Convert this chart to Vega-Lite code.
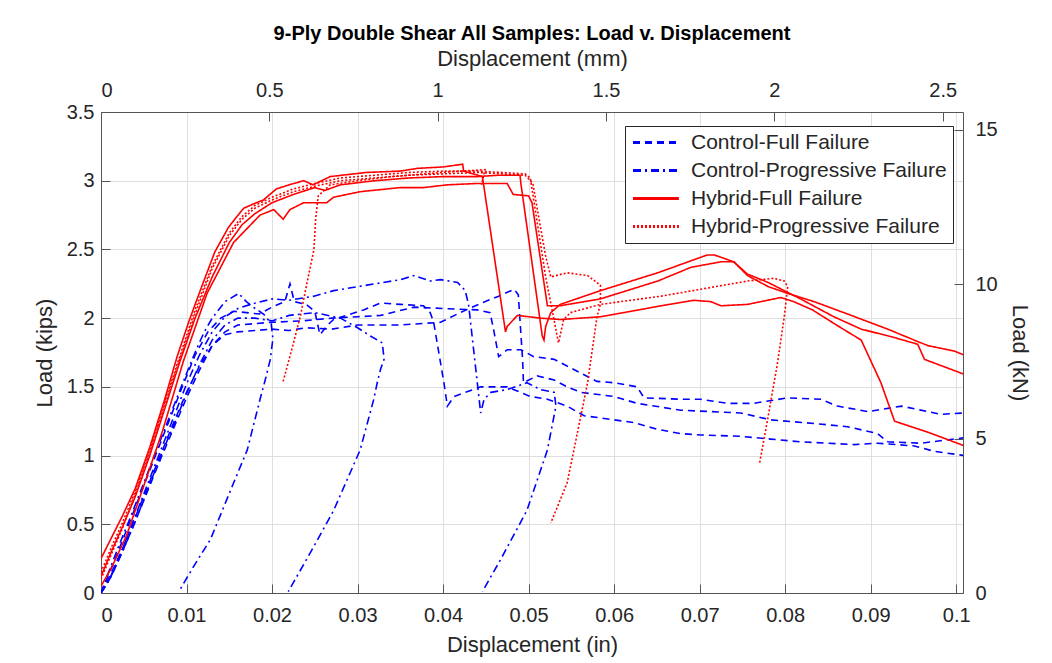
{
"$schema":"https://vega.github.io/schema/vega-lite/v6.json",
"width":862,"height":481,
"autosize":{"type":"none"},
"padding":{"left":101,"top":112,"right":89,"bottom":70},
"title":{"text":"9-Ply Double Shear All Samples: Load v. Displacement","fontSize":20,"fontWeight":"bold","color":"#000","anchor":"middle","offset":3,"font":"Liberation Sans"},
"config":{
 "font":"Liberation Sans",
 "view":{"stroke":null},
 "axis":{"labelFontSize":20,"titleFontSize":22,"labelColor":"#262626","titleColor":"#262626","titleFontWeight":"normal","domainColor":"#555","tickColor":"#555","gridColor":"#dfdfdf","gridOpacity":1,"tickSize":-9,"labelFont":"Liberation Sans","titleFont":"Liberation Sans"},
 "legend":{"orient":"none","legendX":524,"legendY":14,"labelFontSize":21,"labelLimit":0,"labelColor":"#262626","strokeColor":"#262626","fillColor":"#ffffff","padding":6,"rowPadding":6,"symbolType":"M-1,0L4.4,0","symbolSize":289,"symbolStrokeWidth":3,"labelOffset":39,"labelFont":"Liberation Sans"}
},
"layer":[
{
"data":{"values":[
{"c":"Da","t":"CF","x":0,"y":0},{"c":"Da","t":"CF","x":0.0012,"y":0.12},{"c":"Da","t":"CF","x":0.0025,"y":0.3},{"c":"Da","t":"CF","x":0.004,"y":0.52},{"c":"Da","t":"CF","x":0.0055,"y":0.75},{"c":"Da","t":"CF","x":0.007,"y":0.98},{"c":"Da","t":"CF","x":0.0085,"y":1.2},{"c":"Da","t":"CF","x":0.01,"y":1.42},{"c":"Da","t":"CF","x":0.0115,"y":1.62},{"c":"Da","t":"CF","x":0.013,"y":1.8},{"c":"Da","t":"CF","x":0.0145,"y":1.9},{"c":"Da","t":"CF","x":0.016,"y":1.95},{"c":"Da","t":"CF","x":0.018,"y":1.96},{"c":"Da","t":"CF","x":0.02,"y":1.97},{"c":"Da","t":"CF","x":0.0235,"y":1.98},{"c":"Da","t":"CF","x":0.027,"y":2.0},{"c":"Da","t":"CF","x":0.03,"y":2.01},{"c":"Da","t":"CF","x":0.0327,"y":2.02},{"c":"Da","t":"CF","x":0.0366,"y":2.08},{"c":"Da","t":"CF","x":0.04,"y":2.07},{"c":"Da","t":"CF","x":0.044,"y":2.06},{"c":"Da","t":"CF","x":0.0455,"y":2.04},{"c":"Da","t":"CF","x":0.0459,"y":1.92},{"c":"Da","t":"CF","x":0.0465,"y":1.72},{"c":"Da","t":"CF","x":0.0475,"y":1.77},{"c":"Da","t":"CF","x":0.0491,"y":1.77},{"c":"Da","t":"CF","x":0.0506,"y":1.72},{"c":"Da","t":"CF","x":0.053,"y":1.7},{"c":"Da","t":"CF","x":0.0561,"y":1.6},{"c":"Da","t":"CF","x":0.058,"y":1.54},{"c":"Da","t":"CF","x":0.06,"y":1.53},{"c":"Da","t":"CF","x":0.0627,"y":1.5},{"c":"Da","t":"CF","x":0.0635,"y":1.42},{"c":"Da","t":"CF","x":0.0678,"y":1.41},{"c":"Da","t":"CF","x":0.0701,"y":1.41},{"c":"Da","t":"CF","x":0.0733,"y":1.38},{"c":"Da","t":"CF","x":0.0763,"y":1.38},{"c":"Da","t":"CF","x":0.0803,"y":1.42},{"c":"Da","t":"CF","x":0.0842,"y":1.41},{"c":"Da","t":"CF","x":0.0861,"y":1.36},{"c":"Da","t":"CF","x":0.0897,"y":1.32},{"c":"Da","t":"CF","x":0.0936,"y":1.36},{"c":"Da","t":"CF","x":0.0982,"y":1.3},{"c":"Da","t":"CF","x":0.101,"y":1.31},
{"c":"Db","t":"CF","x":0,"y":0},{"c":"Db","t":"CF","x":0.001,"y":0.12},{"c":"Db","t":"CF","x":0.0025,"y":0.32},{"c":"Db","t":"CF","x":0.004,"y":0.55},{"c":"Db","t":"CF","x":0.0055,"y":0.78},{"c":"Db","t":"CF","x":0.007,"y":1.01},{"c":"Db","t":"CF","x":0.0085,"y":1.24},{"c":"Db","t":"CF","x":0.01,"y":1.46},{"c":"Db","t":"CF","x":0.0115,"y":1.65},{"c":"Db","t":"CF","x":0.013,"y":1.8},{"c":"Db","t":"CF","x":0.0145,"y":1.88},{"c":"Db","t":"CF","x":0.016,"y":1.9},{"c":"Db","t":"CF","x":0.018,"y":1.91},{"c":"Db","t":"CF","x":0.02,"y":1.92},{"c":"Db","t":"CF","x":0.022,"y":1.91},{"c":"Db","t":"CF","x":0.024,"y":1.93},{"c":"Db","t":"CF","x":0.027,"y":1.92},{"c":"Db","t":"CF","x":0.03,"y":1.95},{"c":"Db","t":"CF","x":0.035,"y":1.95},{"c":"Db","t":"CF","x":0.0397,"y":1.97},{"c":"Db","t":"CF","x":0.042,"y":2.04},{"c":"Db","t":"CF","x":0.0445,"y":2.11},{"c":"Db","t":"CF","x":0.0465,"y":2.16},{"c":"Db","t":"CF","x":0.0483,"y":2.21},{"c":"Db","t":"CF","x":0.0488,"y":2.17},{"c":"Db","t":"CF","x":0.049,"y":1.98},{"c":"Db","t":"CF","x":0.0493,"y":1.7},{"c":"Db","t":"CF","x":0.0494,"y":1.53},{"c":"Db","t":"CF","x":0.051,"y":1.58},{"c":"Db","t":"CF","x":0.053,"y":1.55},{"c":"Db","t":"CF","x":0.0545,"y":1.5},{"c":"Db","t":"CF","x":0.0561,"y":1.46},{"c":"Db","t":"CF","x":0.06,"y":1.43},{"c":"Db","t":"CF","x":0.0627,"y":1.38},{"c":"Db","t":"CF","x":0.0678,"y":1.33},{"c":"Db","t":"CF","x":0.0748,"y":1.31},{"c":"Db","t":"CF","x":0.0783,"y":1.26},{"c":"Db","t":"CF","x":0.0822,"y":1.24},{"c":"Db","t":"CF","x":0.0873,"y":1.21},{"c":"Db","t":"CF","x":0.0908,"y":1.16},{"c":"Db","t":"CF","x":0.092,"y":1.1},{"c":"Db","t":"CF","x":0.0959,"y":1.09},{"c":"Db","t":"CF","x":0.101,"y":1.13},
{"c":"Dc","t":"CF","x":0,"y":0},{"c":"Dc","t":"CF","x":0.0008,"y":0.12},{"c":"Dc","t":"CF","x":0.002,"y":0.3},{"c":"Dc","t":"CF","x":0.0035,"y":0.54},{"c":"Dc","t":"CF","x":0.005,"y":0.78},{"c":"Dc","t":"CF","x":0.0065,"y":1.02},{"c":"Dc","t":"CF","x":0.008,"y":1.26},{"c":"Dc","t":"CF","x":0.0095,"y":1.5},{"c":"Dc","t":"CF","x":0.011,"y":1.73},{"c":"Dc","t":"CF","x":0.0125,"y":1.9},{"c":"Dc","t":"CF","x":0.014,"y":2.0},{"c":"Dc","t":"CF","x":0.0155,"y":2.05},{"c":"Dc","t":"CF","x":0.017,"y":2.04},{"c":"Dc","t":"CF","x":0.0185,"y":2.03},{"c":"Dc","t":"CF","x":0.02,"y":2.08},{"c":"Dc","t":"CF","x":0.0215,"y":2.12},{"c":"Dc","t":"CF","x":0.0221,"y":2.25},{"c":"Dc","t":"CF","x":0.0226,"y":2.12},{"c":"Dc","t":"CF","x":0.024,"y":2.1},{"c":"Dc","t":"CF","x":0.025,"y":2.05},{"c":"Dc","t":"CF","x":0.0256,"y":1.88},{"c":"Dc","t":"CF","x":0.0265,"y":1.95},{"c":"Dc","t":"CF","x":0.0272,"y":1.99},{"c":"Dc","t":"CF","x":0.0307,"y":2.06},{"c":"Dc","t":"CF","x":0.0327,"y":2.11},{"c":"Dc","t":"CF","x":0.035,"y":2.1},{"c":"Dc","t":"CF","x":0.0377,"y":2.09},{"c":"Dc","t":"CF","x":0.0385,"y":2.04},{"c":"Dc","t":"CF","x":0.0389,"y":1.97},{"c":"Dc","t":"CF","x":0.0401,"y":1.53},{"c":"Dc","t":"CF","x":0.0405,"y":1.36},{"c":"Dc","t":"CF","x":0.0413,"y":1.43},{"c":"Dc","t":"CF","x":0.0444,"y":1.5},{"c":"Dc","t":"CF","x":0.0475,"y":1.5},{"c":"Dc","t":"CF","x":0.0502,"y":1.43},{"c":"Dc","t":"CF","x":0.0522,"y":1.41},{"c":"Dc","t":"CF","x":0.0545,"y":1.36},{"c":"Dc","t":"CF","x":0.0565,"y":1.29},{"c":"Dc","t":"CF","x":0.06,"y":1.26},{"c":"Dc","t":"CF","x":0.0623,"y":1.24},{"c":"Dc","t":"CF","x":0.0651,"y":1.19},{"c":"Dc","t":"CF","x":0.0678,"y":1.16},{"c":"Dc","t":"CF","x":0.0701,"y":1.15},{"c":"Dc","t":"CF","x":0.0748,"y":1.14},{"c":"Dc","t":"CF","x":0.0783,"y":1.12},{"c":"Dc","t":"CF","x":0.0818,"y":1.1},{"c":"Dc","t":"CF","x":0.0881,"y":1.08},{"c":"Dc","t":"CF","x":0.0908,"y":1.09},{"c":"Dc","t":"CF","x":0.0951,"y":1.07},{"c":"Dc","t":"CF","x":0.0975,"y":1.03},{"c":"Dc","t":"CF","x":0.101,"y":1.0},
{"c":"P1","t":"CP","x":0,"y":0},{"c":"P1","t":"CP","x":0.0007,"y":0.12},{"c":"P1","t":"CP","x":0.002,"y":0.33},{"c":"P1","t":"CP","x":0.0035,"y":0.56},{"c":"P1","t":"CP","x":0.005,"y":0.8},{"c":"P1","t":"CP","x":0.0065,"y":1.04},{"c":"P1","t":"CP","x":0.008,"y":1.28},{"c":"P1","t":"CP","x":0.0095,"y":1.52},{"c":"P1","t":"CP","x":0.011,"y":1.75},{"c":"P1","t":"CP","x":0.012,"y":1.89},{"c":"P1","t":"CP","x":0.013,"y":2.0},{"c":"P1","t":"CP","x":0.0145,"y":2.12},{"c":"P1","t":"CP","x":0.0161,"y":2.18},{"c":"P1","t":"CP","x":0.017,"y":2.12},{"c":"P1","t":"CP","x":0.0178,"y":2.08},{"c":"P1","t":"CP","x":0.019,"y":2.03},{"c":"P1","t":"CP","x":0.0199,"y":1.96},{"c":"P1","t":"CP","x":0.0201,"y":1.85},{"c":"P1","t":"CP","x":0.0198,"y":1.7},{"c":"P1","t":"CP","x":0.0192,"y":1.55},{"c":"P1","t":"CP","x":0.0186,"y":1.41},{"c":"P1","t":"CP","x":0.0171,"y":1.04},{"c":"P1","t":"CP","x":0.0155,"y":0.8},{"c":"P1","t":"CP","x":0.0128,"y":0.39},{"c":"P1","t":"CP","x":0.0108,"y":0.19},{"c":"P1","t":"CP","x":0.0091,"y":0.01},
{"c":"P2","t":"CP","x":0,"y":0},{"c":"P2","t":"CP","x":0.001,"y":0.1},{"c":"P2","t":"CP","x":0.0025,"y":0.32},{"c":"P2","t":"CP","x":0.004,"y":0.56},{"c":"P2","t":"CP","x":0.0055,"y":0.8},{"c":"P2","t":"CP","x":0.007,"y":1.04},{"c":"P2","t":"CP","x":0.0085,"y":1.28},{"c":"P2","t":"CP","x":0.01,"y":1.52},{"c":"P2","t":"CP","x":0.0115,"y":1.73},{"c":"P2","t":"CP","x":0.013,"y":1.9},{"c":"P2","t":"CP","x":0.0145,"y":2.01},{"c":"P2","t":"CP","x":0.016,"y":2.07},{"c":"P2","t":"CP","x":0.0175,"y":2.1},{"c":"P2","t":"CP","x":0.02,"y":2.14},{"c":"P2","t":"CP","x":0.022,"y":2.13},{"c":"P2","t":"CP","x":0.0249,"y":2.16},{"c":"P2","t":"CP","x":0.0272,"y":2.2},{"c":"P2","t":"CP","x":0.0311,"y":2.24},{"c":"P2","t":"CP","x":0.035,"y":2.28},{"c":"P2","t":"CP","x":0.0366,"y":2.31},{"c":"P2","t":"CP","x":0.0385,"y":2.27},{"c":"P2","t":"CP","x":0.0397,"y":2.28},{"c":"P2","t":"CP","x":0.0417,"y":2.26},{"c":"P2","t":"CP","x":0.0426,"y":2.2},{"c":"P2","t":"CP","x":0.043,"y":2.09},{"c":"P2","t":"CP","x":0.0444,"y":1.31},{"c":"P2","t":"CP","x":0.0448,"y":1.41},{"c":"P2","t":"CP","x":0.0456,"y":1.46},{"c":"P2","t":"CP","x":0.0475,"y":1.48},{"c":"P2","t":"CP","x":0.0498,"y":1.53},{"c":"P2","t":"CP","x":0.0514,"y":1.48},{"c":"P2","t":"CP","x":0.053,"y":1.46},{"c":"P2","t":"CP","x":0.0532,"y":1.36},{"c":"P2","t":"CP","x":0.0522,"y":1.04},{"c":"P2","t":"CP","x":0.0498,"y":0.6},{"c":"P2","t":"CP","x":0.0467,"y":0.24},{"c":"P2","t":"CP","x":0.0446,"y":0.01},
{"c":"P3","t":"CP","x":0,"y":0},{"c":"P3","t":"CP","x":0.001,"y":0.1},{"c":"P3","t":"CP","x":0.0025,"y":0.3},{"c":"P3","t":"CP","x":0.004,"y":0.52},{"c":"P3","t":"CP","x":0.0055,"y":0.76},{"c":"P3","t":"CP","x":0.007,"y":1.0},{"c":"P3","t":"CP","x":0.0085,"y":1.22},{"c":"P3","t":"CP","x":0.01,"y":1.45},{"c":"P3","t":"CP","x":0.0115,"y":1.66},{"c":"P3","t":"CP","x":0.013,"y":1.84},{"c":"P3","t":"CP","x":0.0145,"y":1.95},{"c":"P3","t":"CP","x":0.016,"y":2.0},{"c":"P3","t":"CP","x":0.018,"y":2.0},{"c":"P3","t":"CP","x":0.02,"y":1.98},{"c":"P3","t":"CP","x":0.022,"y":2.02},{"c":"P3","t":"CP","x":0.025,"y":2.04},{"c":"P3","t":"CP","x":0.028,"y":2.0},{"c":"P3","t":"CP","x":0.03,"y":1.93},{"c":"P3","t":"CP","x":0.0315,"y":1.87},{"c":"P3","t":"CP","x":0.0329,"y":1.82},{"c":"P3","t":"CP","x":0.0331,"y":1.7},{"c":"P3","t":"CP","x":0.0327,"y":1.63},{"c":"P3","t":"CP","x":0.0323,"y":1.53},{"c":"P3","t":"CP","x":0.0319,"y":1.41},{"c":"P3","t":"CP","x":0.0303,"y":1.04},{"c":"P3","t":"CP","x":0.0272,"y":0.6},{"c":"P3","t":"CP","x":0.0249,"y":0.34},{"c":"P3","t":"CP","x":0.0219,"y":0.01},
{"c":"SA","t":"HF","x":0,"y":0.25},{"c":"SA","t":"HF","x":0.0012,"y":0.4},{"c":"SA","t":"HF","x":0.0025,"y":0.56},{"c":"SA","t":"HF","x":0.004,"y":0.76},{"c":"SA","t":"HF","x":0.0057,"y":1.06},{"c":"SA","t":"HF","x":0.0075,"y":1.42},{"c":"SA","t":"HF","x":0.0089,"y":1.72},{"c":"SA","t":"HF","x":0.0103,"y":1.98},{"c":"SA","t":"HF","x":0.0116,"y":2.2},{"c":"SA","t":"HF","x":0.0133,"y":2.48},{"c":"SA","t":"HF","x":0.0149,"y":2.66},{"c":"SA","t":"HF","x":0.0159,"y":2.74},{"c":"SA","t":"HF","x":0.0167,"y":2.8},{"c":"SA","t":"HF","x":0.0178,"y":2.83},{"c":"SA","t":"HF","x":0.019,"y":2.86},{"c":"SA","t":"HF","x":0.0205,"y":2.94},{"c":"SA","t":"HF","x":0.022,"y":2.97},{"c":"SA","t":"HF","x":0.0237,"y":3.0},{"c":"SA","t":"HF","x":0.0248,"y":2.97},{"c":"SA","t":"HF","x":0.0268,"y":3.03},{"c":"SA","t":"HF","x":0.031,"y":3.06},{"c":"SA","t":"HF","x":0.035,"y":3.07},{"c":"SA","t":"HF","x":0.037,"y":3.09},{"c":"SA","t":"HF","x":0.04,"y":3.1},{"c":"SA","t":"HF","x":0.0423,"y":3.12},{"c":"SA","t":"HF","x":0.0424,"y":3.07},{"c":"SA","t":"HF","x":0.0446,"y":3.03},{"c":"SA","t":"HF","x":0.0473,"y":1.9},{"c":"SA","t":"HF","x":0.0475,"y":1.94},{"c":"SA","t":"HF","x":0.0487,"y":2.02},{"c":"SA","t":"HF","x":0.0514,"y":2.0},{"c":"SA","t":"HF","x":0.0537,"y":1.99},{"c":"SA","t":"HF","x":0.0584,"y":2.01},{"c":"SA","t":"HF","x":0.062,"y":2.05},{"c":"SA","t":"HF","x":0.0655,"y":2.09},{"c":"SA","t":"HF","x":0.0693,"y":2.13},{"c":"SA","t":"HF","x":0.0713,"y":2.12},{"c":"SA","t":"HF","x":0.0725,"y":2.09},{"c":"SA","t":"HF","x":0.0756,"y":2.1},{"c":"SA","t":"HF","x":0.0795,"y":2.15},{"c":"SA","t":"HF","x":0.081,"y":2.12},{"c":"SA","t":"HF","x":0.0832,"y":2.06},{"c":"SA","t":"HF","x":0.086,"y":1.95},{"c":"SA","t":"HF","x":0.0889,"y":1.84},{"c":"SA","t":"HF","x":0.0912,"y":1.53},{"c":"SA","t":"HF","x":0.0928,"y":1.25},{"c":"SA","t":"HF","x":0.0967,"y":1.17},{"c":"SA","t":"HF","x":0.101,"y":1.07},
{"c":"SB","t":"HF","x":0,"y":0.12},{"c":"SB","t":"HF","x":0.0012,"y":0.3},{"c":"SB","t":"HF","x":0.0025,"y":0.48},{"c":"SB","t":"HF","x":0.004,"y":0.7},{"c":"SB","t":"HF","x":0.0057,"y":1.0},{"c":"SB","t":"HF","x":0.0075,"y":1.35},{"c":"SB","t":"HF","x":0.0092,"y":1.68},{"c":"SB","t":"HF","x":0.011,"y":2.0},{"c":"SB","t":"HF","x":0.013,"y":2.3},{"c":"SB","t":"HF","x":0.015,"y":2.55},{"c":"SB","t":"HF","x":0.0165,"y":2.68},{"c":"SB","t":"HF","x":0.018,"y":2.76},{"c":"SB","t":"HF","x":0.02,"y":2.84},{"c":"SB","t":"HF","x":0.0225,"y":2.9},{"c":"SB","t":"HF","x":0.025,"y":2.95},{"c":"SB","t":"HF","x":0.0262,"y":2.93},{"c":"SB","t":"HF","x":0.028,"y":2.97},{"c":"SB","t":"HF","x":0.032,"y":3.0},{"c":"SB","t":"HF","x":0.036,"y":3.02},{"c":"SB","t":"HF","x":0.04,"y":3.03},{"c":"SB","t":"HF","x":0.044,"y":3.03},{"c":"SB","t":"HF","x":0.0465,"y":3.04},{"c":"SB","t":"HF","x":0.049,"y":3.04},{"c":"SB","t":"HF","x":0.0491,"y":2.98},{"c":"SB","t":"HF","x":0.0516,"y":1.87},{"c":"SB","t":"HF","x":0.0518,"y":1.84},{"c":"SB","t":"HF","x":0.052,"y":1.94},{"c":"SB","t":"HF","x":0.0526,"y":2.04},{"c":"SB","t":"HF","x":0.0537,"y":2.1},{"c":"SB","t":"HF","x":0.0584,"y":2.2},{"c":"SB","t":"HF","x":0.0651,"y":2.33},{"c":"SB","t":"HF","x":0.0709,"y":2.46},{"c":"SB","t":"HF","x":0.0717,"y":2.46},{"c":"SB","t":"HF","x":0.074,"y":2.41},{"c":"SB","t":"HF","x":0.0756,"y":2.31},{"c":"SB","t":"HF","x":0.078,"y":2.23},{"c":"SB","t":"HF","x":0.0803,"y":2.18},{"c":"SB","t":"HF","x":0.0834,"y":2.12},{"c":"SB","t":"HF","x":0.0873,"y":2.03},{"c":"SB","t":"HF","x":0.092,"y":1.92},{"c":"SB","t":"HF","x":0.0951,"y":1.84},{"c":"SB","t":"HF","x":0.0967,"y":1.8},{"c":"SB","t":"HF","x":0.0998,"y":1.76},{"c":"SB","t":"HF","x":0.101,"y":1.73},
{"c":"SC","t":"HF","x":0,"y":0.05},{"c":"SC","t":"HF","x":0.0012,"y":0.18},{"c":"SC","t":"HF","x":0.003,"y":0.42},{"c":"SC","t":"HF","x":0.005,"y":0.78},{"c":"SC","t":"HF","x":0.0072,"y":1.18},{"c":"SC","t":"HF","x":0.0096,"y":1.68},{"c":"SC","t":"HF","x":0.0124,"y":2.18},{"c":"SC","t":"HF","x":0.0155,"y":2.55},{"c":"SC","t":"HF","x":0.0186,"y":2.75},{"c":"SC","t":"HF","x":0.0202,"y":2.79},{"c":"SC","t":"HF","x":0.0213,"y":2.72},{"c":"SC","t":"HF","x":0.0221,"y":2.79},{"c":"SC","t":"HF","x":0.0237,"y":2.84},{"c":"SC","t":"HF","x":0.0264,"y":2.84},{"c":"SC","t":"HF","x":0.0272,"y":2.88},{"c":"SC","t":"HF","x":0.0303,"y":2.92},{"c":"SC","t":"HF","x":0.035,"y":2.95},{"c":"SC","t":"HF","x":0.0377,"y":2.95},{"c":"SC","t":"HF","x":0.0405,"y":2.97},{"c":"SC","t":"HF","x":0.044,"y":2.98},{"c":"SC","t":"HF","x":0.0475,"y":2.98},{"c":"SC","t":"HF","x":0.0482,"y":2.9},{"c":"SC","t":"HF","x":0.05,"y":2.89},{"c":"SC","t":"HF","x":0.0504,"y":2.84},{"c":"SC","t":"HF","x":0.0522,"y":2.09},{"c":"SC","t":"HF","x":0.0537,"y":2.09},{"c":"SC","t":"HF","x":0.0584,"y":2.14},{"c":"SC","t":"HF","x":0.0651,"y":2.27},{"c":"SC","t":"HF","x":0.069,"y":2.37},{"c":"SC","t":"HF","x":0.0725,"y":2.41},{"c":"SC","t":"HF","x":0.074,"y":2.41},{"c":"SC","t":"HF","x":0.0756,"y":2.32},{"c":"SC","t":"HF","x":0.078,"y":2.26},{"c":"SC","t":"HF","x":0.0818,"y":2.14},{"c":"SC","t":"HF","x":0.0857,"y":2.01},{"c":"SC","t":"HF","x":0.0889,"y":1.92},{"c":"SC","t":"HF","x":0.0927,"y":1.86},{"c":"SC","t":"HF","x":0.0955,"y":1.81},{"c":"SC","t":"HF","x":0.0963,"y":1.7},{"c":"SC","t":"HF","x":0.101,"y":1.59},
{"c":"D1","t":"HP","x":0,"y":0.1},{"c":"D1","t":"HP","x":0.0012,"y":0.28},{"c":"D1","t":"HP","x":0.0025,"y":0.47},{"c":"D1","t":"HP","x":0.004,"y":0.72},{"c":"D1","t":"HP","x":0.0057,"y":1.02},{"c":"D1","t":"HP","x":0.0075,"y":1.38},{"c":"D1","t":"HP","x":0.0092,"y":1.7},{"c":"D1","t":"HP","x":0.011,"y":2.03},{"c":"D1","t":"HP","x":0.013,"y":2.36},{"c":"D1","t":"HP","x":0.015,"y":2.6},{"c":"D1","t":"HP","x":0.0165,"y":2.72},{"c":"D1","t":"HP","x":0.018,"y":2.8},{"c":"D1","t":"HP","x":0.02,"y":2.86},{"c":"D1","t":"HP","x":0.0225,"y":2.92},{"c":"D1","t":"HP","x":0.025,"y":2.96},{"c":"D1","t":"HP","x":0.028,"y":3.0},{"c":"D1","t":"HP","x":0.032,"y":3.02},{"c":"D1","t":"HP","x":0.036,"y":3.04},{"c":"D1","t":"HP","x":0.04,"y":3.05},{"c":"D1","t":"HP","x":0.044,"y":3.06},{"c":"D1","t":"HP","x":0.047,"y":3.05},{"c":"D1","t":"HP","x":0.0496,"y":3.04},{"c":"D1","t":"HP","x":0.0505,"y":2.98},{"c":"D1","t":"HP","x":0.051,"y":2.8},{"c":"D1","t":"HP","x":0.052,"y":2.45},{"c":"D1","t":"HP","x":0.0526,"y":2.3},{"c":"D1","t":"HP","x":0.0545,"y":2.33},{"c":"D1","t":"HP","x":0.0569,"y":2.31},{"c":"D1","t":"HP","x":0.0584,"y":2.24},{"c":"D1","t":"HP","x":0.0584,"y":2.1},{"c":"D1","t":"HP","x":0.058,"y":2.01},{"c":"D1","t":"HP","x":0.0569,"y":1.53},{"c":"D1","t":"HP","x":0.0553,"y":1.04},{"c":"D1","t":"HP","x":0.0545,"y":0.8},{"c":"D1","t":"HP","x":0.0526,"y":0.51},
{"c":"D2","t":"HP","x":0,"y":0.15},{"c":"D2","t":"HP","x":0.0012,"y":0.33},{"c":"D2","t":"HP","x":0.0025,"y":0.51},{"c":"D2","t":"HP","x":0.004,"y":0.74},{"c":"D2","t":"HP","x":0.0057,"y":1.04},{"c":"D2","t":"HP","x":0.0075,"y":1.4},{"c":"D2","t":"HP","x":0.0092,"y":1.72},{"c":"D2","t":"HP","x":0.011,"y":2.06},{"c":"D2","t":"HP","x":0.013,"y":2.38},{"c":"D2","t":"HP","x":0.015,"y":2.62},{"c":"D2","t":"HP","x":0.0165,"y":2.74},{"c":"D2","t":"HP","x":0.018,"y":2.82},{"c":"D2","t":"HP","x":0.02,"y":2.88},{"c":"D2","t":"HP","x":0.0225,"y":2.94},{"c":"D2","t":"HP","x":0.025,"y":2.98},{"c":"D2","t":"HP","x":0.028,"y":3.02},{"c":"D2","t":"HP","x":0.032,"y":3.04},{"c":"D2","t":"HP","x":0.036,"y":3.06},{"c":"D2","t":"HP","x":0.04,"y":3.07},{"c":"D2","t":"HP","x":0.044,"y":3.07},{"c":"D2","t":"HP","x":0.047,"y":3.06},{"c":"D2","t":"HP","x":0.0496,"y":3.05},{"c":"D2","t":"HP","x":0.0502,"y":3.02},{"c":"D2","t":"HP","x":0.051,"y":2.7},{"c":"D2","t":"HP","x":0.052,"y":2.3},{"c":"D2","t":"HP","x":0.053,"y":1.98},{"c":"D2","t":"HP","x":0.0535,"y":1.82},{"c":"D2","t":"HP","x":0.0541,"y":1.99},{"c":"D2","t":"HP","x":0.0549,"y":2.04},{"c":"D2","t":"HP","x":0.0584,"y":2.1},{"c":"D2","t":"HP","x":0.0655,"y":2.16},{"c":"D2","t":"HP","x":0.0701,"y":2.21},{"c":"D2","t":"HP","x":0.0756,"y":2.27},{"c":"D2","t":"HP","x":0.0787,"y":2.29},{"c":"D2","t":"HP","x":0.0799,"y":2.27},{"c":"D2","t":"HP","x":0.0803,"y":2.23},{"c":"D2","t":"HP","x":0.0799,"y":2.01},{"c":"D2","t":"HP","x":0.0791,"y":1.67},{"c":"D2","t":"HP","x":0.078,"y":1.28},{"c":"D2","t":"HP","x":0.077,"y":0.94},
{"c":"D3","t":"HP","x":0.0213,"y":1.54},{"c":"D3","t":"HP","x":0.0223,"y":1.77},{"c":"D3","t":"HP","x":0.0233,"y":2.01},{"c":"D3","t":"HP","x":0.0241,"y":2.26},{"c":"D3","t":"HP","x":0.0249,"y":2.5},{"c":"D3","t":"HP","x":0.0251,"y":2.72},{"c":"D3","t":"HP","x":0.0254,"y":2.89},{"c":"D3","t":"HP","x":0.0268,"y":2.97},{"c":"D3","t":"HP","x":0.03,"y":3.0},{"c":"D3","t":"HP","x":0.034,"y":3.03},{"c":"D3","t":"HP","x":0.038,"y":3.05},{"c":"D3","t":"HP","x":0.042,"y":3.07},{"c":"D3","t":"HP","x":0.0449,"y":3.08},{"c":"D3","t":"HP","x":0.0445,"y":2.97}
]},
"mark":{"type":"line","clip":true,"strokeWidth":1.6},
"encoding":{
 "x":{"field":"x","type":"quantitative","scale":{"domain":[0,0.1008],"nice":false,"zero":false},"axis":{"orient":"bottom","values":[0,0.01,0.02,0.03,0.04,0.05,0.06,0.07,0.08,0.09,0.1],"format":"~g","title":"Displacement (in)","grid":true,"labelPadding":21,"titlePadding":9}},
 "y":{"field":"y","type":"quantitative","scale":{"domain":[0,3.5],"nice":false},"axis":{"orient":"left","values":[0,0.5,1,1.5,2,2.5,3,3.5],"format":"~g","title":"Load (kips)","grid":true,"labelPadding":16,"titlePadding":10}},
 "detail":{"field":"c"},
 "order":{"value":null},
 "color":{"field":"t","type":"nominal","scale":{"domain":["CF","CP","HF","HP"],"range":["#0000ff","#0000ff","#ff0000","#ff0000"]},"legend":{"title":null,"symbolStrokeWidth":3,"labelExpr":"datum.label=='CF'?'Control-Full Failure':datum.label=='CP'?'Control-Progressive Failure':datum.label=='HF'?'Hybrid-Full Failure':'Hybrid-Progressive Failure'"}},
 "strokeDash":{"field":"t","type":"nominal","scale":{"domain":["CF","CP","HF","HP"],"range":[[7,5],[8,4,2,4],[1,0],[2,2]]},"legend":{"title":null,"symbolStrokeWidth":3,"labelExpr":"datum.label=='CF'?'Control-Full Failure':datum.label=='CP'?'Control-Progressive Failure':datum.label=='HF'?'Hybrid-Full Failure':'Hybrid-Progressive Failure'"}}
}
},
{
"data":{"values":[{"mm":0,"kN":0},{"mm":2.5603,"kN":15.569}]},
"mark":{"type":"point","opacity":0},
"encoding":{
 "x":{"field":"mm","type":"quantitative","scale":{"domain":[0,2.5603],"nice":false,"zero":false},"axis":{"orient":"top","values":[0,0.5,1,1.5,2,2.5],"format":"~g","title":"Displacement (mm)","grid":false,"labelPadding":21,"titlePadding":10}},
 "y":{"field":"kN","type":"quantitative","scale":{"domain":[0,15.569],"nice":false},"axis":{"orient":"right","values":[0,5,10,15],"format":"~g","title":"Load (kN)","grid":false,"labelPadding":21,"titlePadding":10}}
}
}
],
"resolve":{"scale":{"x":"independent","y":"independent","color":"shared","strokeDash":"shared"}}
}
